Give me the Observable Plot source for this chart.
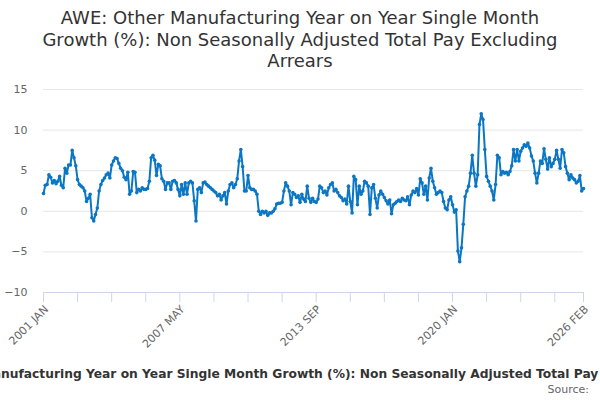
<!DOCTYPE html>
<html><head><meta charset="utf-8">
<script src="https://cdn.jsdelivr.net/npm/d3@7"></script>
<script src="https://cdn.jsdelivr.net/npm/@observablehq/plot@0.6"></script>
<style>
body{margin:0;width:600px;height:400px;overflow:hidden;background:#fff;font-family:"DejaVu Sans",sans-serif;position:relative;}
#title{height:72px;text-align:center;font-size:18px;color:#333;line-height:21.5px;padding-top:7px;box-sizing:border-box;}
#chart{height:280px;}
#legend{position:absolute;top:367px;left:0;white-space:nowrap;font-weight:bold;font-size:12px;color:#333;}
#source{position:absolute;top:383px;right:11px;font-size:11px;color:#666;}
</style></head><body>
<div id="title">AWE: Other Manufacturing Year on Year Single Month<br>Growth (%): Non Seasonally Adjusted Total Pay Excluding<br>Arrears</div>
<div id="chart"></div>
<div id="legend"></div>
<div id="source">Source:</div>
<script>
const seriesName = "AWE: Other Manufacturing Year on Year Single Month Growth (%): Non Seasonally Adjusted Total Pay Excluding Arrears";
const monthNames = ["JAN","FEB","MAR","APR","MAY","JUN","JUL","AUG","SEP","OCT","NOV","DEC"];
const startYear = 2001;
const y2001 = [2.2,3.2,3.3,4.5,4.2,3.5,3.8,3.4,3.7,4.3,3.2,2.9];
const y2002 = [5.3,4.7,5.7,5.7,7.5,6.6,5.6,3.9,3.3,3.1,2.9,2.5];
const y2003 = [1.2,1.6,2.1,-0.8,-1.2,-0.4,0.4,2.5,3.3,3.8,4.1,4.5];
const y2004 = [4.7,4.1,5.7,6.2,6.6,6.5,5.9,5.3,5.0,4.2,3.9,4.8];
const y2005 = [2.1,2.5,4.9,4.8,2.3,2.7,2.5,2.9,2.7,2.7,2.8,3.7];
const y2006 = [6.6,6.9,6.3,4.4,5.8,5.6,4.0,3.7,2.7,3.5,3.5,2.7];
const y2007 = [3.7,3.8,3.5,2.7,1.9,3.3,2.1,3.5,2.1,3.5,3.7,3.5];
const y2008 = [1.3,-1.2,2.7,2.9,2.3,3.5,3.6,3.3,3.1,2.9,2.7,2.5];
const y2009 = [2.3,1.9,2.1,1.4,1.9,2.3,0.9,2.5,3.3,3.5,2.9,3.3];
const y2010 = [4.0,6.2,7.6,5.5,2.5,2.5,4.4,2.9,2.7,2.7,2.5,2.1];
const y2011 = [0.0,-0.4,0.0,-0.2,0.0,-0.5,-0.2,-0.2,0.0,0.3,0.9,1.0];
const y2012 = [1.0,1.1,2.5,3.5,3.1,2.5,0.8,2.3,2.1,1.7,1.9,1.1];
const y2013 = [2.1,1.5,1.2,3.1,1.6,1.1,1.6,1.2,1.1,1.5,3.1,2.9];
const y2014 = [2.3,2.5,2.0,2.9,3.3,3.5,2.5,2.7,2.3,1.9,1.7,1.3];
const y2015 = [1.5,0.9,3.1,1.2,-0.2,4.3,3.9,0.8,3.1,2.1,2.5,3.7];
const y2016 = [3.5,3.1,-0.4,2.9,3.3,1.6,0.4,2.0,2.5,2.1,1.7,1.3];
const y2017 = [0.9,1.4,-0.3,0.8,1.0,1.2,1.4,1.2,1.6,1.4,1.3,1.8];
const y2018 = [0.8,2.0,2.5,2.3,2.8,2.0,4.0,3.5,2.1,3.1,1.4,4.1];
const y2019 = [5.3,3.7,2.9,2.1,2.3,2.5,2.3,1.2,0.4,0.2,1.4,1.8];
const y2020 = [0.8,-0.1,0.2,-4.9,-6.2,-4.5,-1.6,1.8,2.5,3.1,4.7,6.9];
const y2021 = [4.7,3.1,4.5,10.7,12.0,11.3,7.6,4.3,3.7,3.1,2.5,1.4];
const y2022 = [3.3,6.9,6.6,4.5,4.9,4.7,4.8,4.5,4.9,5.6,7.6,6.2];
const y2023 = [7.6,6.2,7.4,7.8,8.2,8.0,8.4,7.8,6.8,6.2,4.7,3.5];
const y2024 = [4.7,6.2,5.9,7.7,6.4,5.2,6.6,5.5,5.9,6.4,7.5,6.4];
const y2025 = [5.3,7.6,7.2,5.5,4.7,3.9,4.5,4.1,3.9,3.5,3.7,4.4];
const y2026 = [2.5,2.8];
const tickLabels = ["2001 JAN","2007 MAY","2013 SEP","2020 JAN","2026 FEB"];
const yTicks = [-10,-5,0,5,10,15];

const values = [].concat(y2001,y2002,y2003,y2004,y2005,y2006,y2007,y2008,y2009,y2010,y2011,y2012,y2013,y2014,y2015,y2016,y2017,y2018,y2019,y2020,y2021,y2022,y2023,y2024,y2025,y2026);
const categories = values.map((_, i) => `${startYear + Math.floor(i / 12)} ${monthNames[i % 12]}`);
const data = values.map((v, i) => ({i, v, c: categories[i]}));
const last = values.length - 1;
const tickIdx = d3.range(0, last, 19).concat([last]);
const labelIdx = tickLabels.map(l => categories.indexOf(l));

const color = "#0b77c4";
const chart = Plot.plot({
  width: 600, height: 280,
  marginTop: 17, marginBottom: 60, marginLeft: 43, marginRight: 17,
  style: {fontFamily: "DejaVu Sans", fontSize: "11px", background: "#fff", overflow: "visible"},
  x: {type: "linear", domain: [0, last]},
  y: {domain: [-10, 15]},
  marks: [
    Plot.gridY(yTicks, {stroke: "#e6e6e6", strokeOpacity: 1}),
    Plot.axisY(yTicks, {tickSize: 0, tickPadding: 16, fill: "#666", label: null}),
    Plot.ruleY([-10], {stroke: "#ccd6eb"}),
    Plot.axisX(tickIdx, {tickSize: 10, stroke: "#ccd6eb", tickFormat: () => "", label: null}),
    Plot.axisX(labelIdx, {tickSize: 0, tickPadding: 15, dx: 3, tickRotate: -45, fill: "#666", label: null,
      tickFormat: d => categories[d]}),
    Plot.line(data, {x: "i", y: "v", stroke: color, strokeWidth: 2}),
    Plot.dot(data, {x: "i", y: "v", r: 1.8, fill: color})
  ]
});
document.getElementById("chart").appendChild(chart);

const legend = document.getElementById("legend");
legend.textContent = seriesName;
const ctx = document.createElement("canvas").getContext("2d");
ctx.font = "bold 100px 'DejaVu Sans'";
const visible = "nufacturing Year on Year Single Month Growth (%): Non Seasonally Adjusted Total Pay";
const fs = 100 * 598 / ctx.measureText(visible).width;
ctx.font = `bold ${fs}px 'DejaVu Sans'`;
const pre = ctx.measureText("AWE: Other Ma").width;
legend.style.fontSize = fs + "px";
legend.style.left = (1 - pre) + "px";
</script>
</body></html>
